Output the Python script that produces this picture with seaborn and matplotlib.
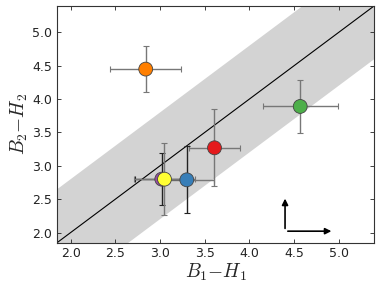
import matplotlib
matplotlib.use("Agg")
import matplotlib.pyplot as plt
import numpy as np
import seaborn as sns

# ── Data ───────────────────────────────────────────────────────────────────
names = ["orange", "green", "red", "blue", "purple", "yellow"]
x_vals = [2.84, 4.57, 3.61, 3.30, 3.02, 3.05]
y_vals = [4.45, 3.89, 3.27, 2.79, 2.80, 2.80]
x_errs = [0.40, 0.42, 0.29, 0.30, 0.30, 0.34]
y_errs = [0.35, 0.40, 0.58, 0.50, 0.39, 0.54]
colors = ["#ff7f00", "#4daf4a", "#e41a1c", "#377eb8", "#984ea3", "#ffff33"]
band_halfwidth = 0.8
lims = (1.85, 5.40)
arrow_origin = (4.40, 2.02)
arrow_up_to = 2.55
arrow_right_to = 4.95

sns.set_style("white")
plt.rcParams.update({
    "mathtext.fontset": "cm",
    "xtick.direction": "in",
    "ytick.direction": "in",
    "xtick.bottom": True,
    "ytick.left": True,
    "xtick.top": True,
    "ytick.right": True,
    "xtick.major.size": 3,
    "ytick.major.size": 3,
    "xtick.major.width": 0.6,
    "ytick.major.width": 0.6,
    "xtick.labelsize": 9,
    "ytick.labelsize": 9,
    "xtick.color": "#222222",
    "ytick.color": "#222222",
})

fig, ax = plt.subplots(figsize=(3.82, 2.87), dpi=100)
fig.subplots_adjust(left=0.15, right=0.98, bottom=0.155, top=0.98)

line = np.array(lims)
ax.fill_between(line, line - band_halfwidth, line + band_halfwidth,
                color="#d3d3d3", linewidth=0, zorder=0)
ax.plot(line, line, color="black", linewidth=0.8, zorder=1)

for i in range(len(names)):
    ecol_x = "#222222" if names[i] == "purple" else "#777777"
    ecol_y = "#222222" if names[i] in ("blue", "purple") else "#777777"
    ax.errorbar(x_vals[i], y_vals[i], xerr=x_errs[i], fmt="none",
                ecolor=ecol_x, elinewidth=1.0, capsize=2, capthick=0.8, zorder=2)
    ax.errorbar(x_vals[i], y_vals[i], yerr=y_errs[i], fmt="none",
                ecolor=ecol_y, elinewidth=1.0, capsize=2, capthick=0.8, zorder=2)

sns.scatterplot(x=x_vals, y=y_vals, hue=names, palette=dict(zip(names, colors)),
                s=100, edgecolor="#444444", linewidth=0.6, legend=False, ax=ax, zorder=3)

ax.annotate("", xy=(arrow_origin[0], arrow_up_to), xytext=arrow_origin,
            arrowprops=dict(arrowstyle="-|>", color="black", lw=1.2, mutation_scale=9))
ax.annotate("", xy=(arrow_right_to, arrow_origin[1]), xytext=arrow_origin,
            arrowprops=dict(arrowstyle="-|>", color="black", lw=1.2, mutation_scale=9))

ax.set_xlim(*lims)
ax.set_ylim(*lims)
ax.set_xticks([2.0, 2.5, 3.0, 3.5, 4.0, 4.5, 5.0])
ax.set_yticks([2.0, 2.5, 3.0, 3.5, 4.0, 4.5, 5.0])
ax.set_xlabel(r"$B_1{-}H_1$", fontsize=14, labelpad=1)
ax.set_ylabel(r"$B_2{-}H_2$", fontsize=14, labelpad=2)
for s in ax.spines.values():
    s.set_color("#333333")
    s.set_linewidth(0.8)

fig.savefig("out.png", dpi=100)
